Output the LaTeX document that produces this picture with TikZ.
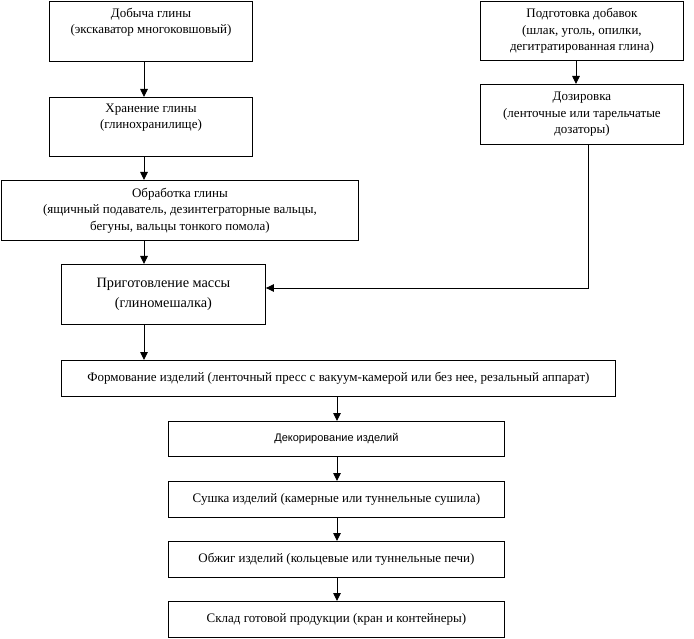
\documentclass[tikz,border=0pt]{standalone}
\usepackage{fontspec}
\setmainfont{Liberation Serif}
\newfontfamily\arialf{Liberation Sans}
\usetikzlibrary{arrows.meta}
\begin{document}
\begin{tikzpicture}[x=1pt,y=-1pt,
  box/.style={draw, line width=0.9pt, inner sep=0pt, align=center, anchor=north west,
    font=\fontsize{13}{16.5}\selectfont},
  bigbox/.style={box, font=\fontsize{14.3}{20}\selectfont},
  sansbox/.style={box, font=\arialf\fontsize{11}{13}\selectfont},
  arr/.style={-{Triangle[width=7.5pt,length=8pt]}, line width=0.9pt},
  conn/.style={line width=0.9pt}]
\useasboundingbox (0,0) rectangle (694,639);
% left column
\node[box, minimum width=203pt, minimum height=60pt] (dob) at (49,1)
  {Добыча глины\\(экскаватор многоковшовый)\\\strut};
\node[box, minimum width=203pt, minimum height=59pt] (hran) at (49,97)
  {Хранение глины\\(глинохранилище)\\\strut};
\node[box, minimum width=357pt, minimum height=60pt] (obr) at (1,180)
  {Обработка глины\\(ящичный подаватель, дезинтеграторные вальцы,\\бегуны, вальцы тонкого помола)};
\node[bigbox, minimum width=204pt, minimum height=60pt] (prig) at (61,264)
  {Приготовление массы\\(глиномешалка)};
% right column
\node[box, minimum width=203pt, minimum height=59pt] (podg) at (480,1)
  {Подготовка добавок\\(шлак, уголь, опилки,\\дегитратированная глина)};
\node[box, minimum width=203pt, minimum height=60pt] (doz) at (480,84)
  {Дозировка\\(ленточные или тарельчатые\\дозаторы)};
% lower chain
\node[box, minimum width=554pt, minimum height=36pt] (form) at (61,360)
  {Формование изделий (ленточный пресс с вакуум-камерой или без нее, резальный аппарат)};
\node[sansbox, minimum width=336pt, minimum height=35pt] (dek) at (168,421)
  {Декорирование изделий};
\node[box, minimum width=336pt, minimum height=36pt] (sush) at (168,481)
  {Сушка изделий (камерные или туннельные сушила)};
\node[box, minimum width=336pt, minimum height=36pt] (obzh) at (168,541)
  {Обжиг изделий (кольцевые или туннельные печи)};
\node[box, minimum width=336pt, minimum height=36pt] (skl) at (168,601)
  {Склад готовой продукции (кран и контейнеры)};
% guide coordinates
\coordinate (cl) at (144,0);
\coordinate (cm) at (337,0);
\coordinate (cr) at (576,0);
\coordinate (cd) at (588,0);
\coordinate (turn) at (588,288);
% connectors
\draw[arr] (dob.south -| cl) -- (hran.north -| cl);
\draw[arr] (hran.south -| cl) -- (obr.north -| cl);
\draw[arr] (obr.south -| cl) -- (prig.north -| cl);
\draw[arr] (prig.south -| cl) -- (form.north -| cl);
\draw[arr] (podg.south -| cr) -- (doz.north -| cr);
\draw[arr] (doz.south -| cd) -- (turn) -- (turn -| prig.east);
\draw[arr] (form.south -| cm) -- (dek.north -| cm);
\draw[arr] (dek.south -| cm) -- (sush.north -| cm);
\draw[arr] (sush.south -| cm) -- (obzh.north -| cm);
\draw[arr] (obzh.south -| cm) -- (skl.north -| cm);
\end{tikzpicture}
\end{document}
